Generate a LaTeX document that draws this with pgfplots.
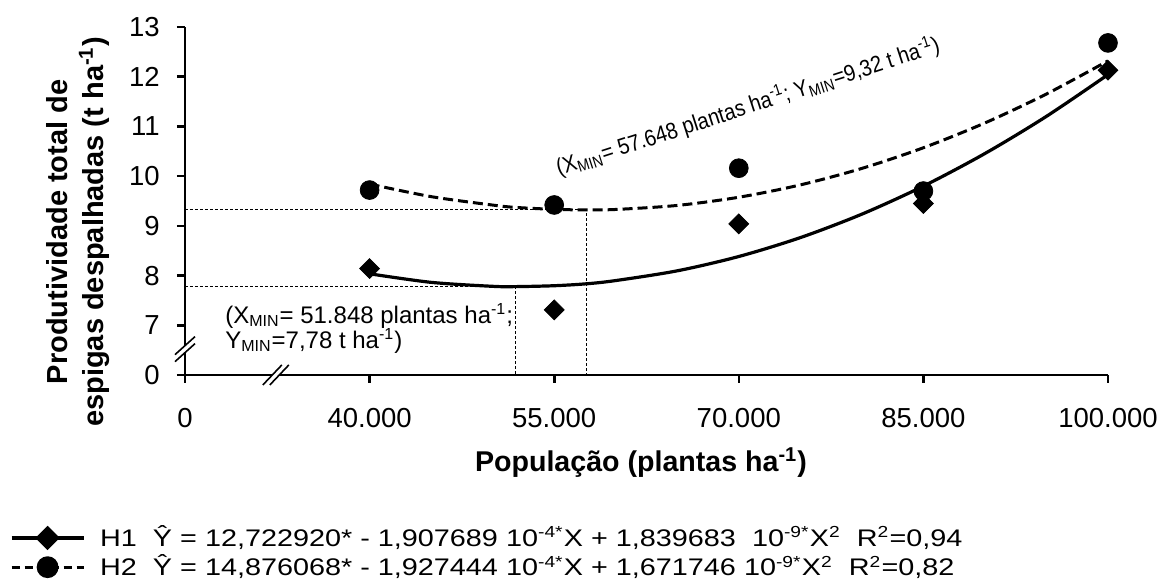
\documentclass[border=0pt]{standalone}
\usepackage{fontspec}
\setmainfont{Liberation Sans}
\usepackage{graphicx}
\usepackage{pgfplots}
\pgfplotsset{compat=1.18}

% Fitted quadratic responses (evaluated every 5000 plants/ha)
\pgfplotstableread{
x       hA      hB
40000   8.0357  9.8411
45000   7.8637  9.5879
50000   7.7837  9.4182
51848   7.7777  9.3713
55000   7.7957  9.3322
57648   7.8351  9.3204
60000   7.8997  9.3297
65000   8.0956  9.4108
70000   8.3836  9.5755
75000   8.7635  9.8238
80000   9.2354  10.1557
85000   9.7993  10.5712
90000   10.4552 11.0702
95000   11.2030 11.6529
100000  12.0429 12.3191
}\fitted

% Observed means
\pgfplotstableread{
x       hA      hB
40000   8.14    9.72
55000   7.31    9.42
70000   9.04    10.16
85000   9.45    9.70
100000  12.13   12.68
}\observed

\begin{document}
\begin{tikzpicture}
\begin{axis}[
  scale only axis,
  width=461.5pt, height=174pt,
  xmin=25000, xmax=100000,
  ymin=6, ymax=13,
  clip=false,
  scaled x ticks=false, scaled y ticks=false,
  axis x line*=bottom, axis y line*=left,
  axis line style={line width=1.3pt, -},
  every tick/.style={black, line width=1.3pt},
  tick align=outside,
  major tick length=4pt,
  xtick={25000,40000,55000,70000,85000,100000},
  xticklabels={0,40.000,55.000,70.000,85.000,100.000},
  ytick={6,7,8,9,10,11,12,13},
  yticklabels={0,7,8,9,10,11,12,13},
  /pgf/number format/assume math mode=true,
  tick label style={font=\fontsize{13.75}{16}\selectfont},
  xticklabel style={anchor=base, inner sep=0pt, yshift=-22.5pt},
  yticklabel style={anchor=east, inner sep=0pt, xshift=-8.5pt},
  xlabel={População (plantas ha\textsuperscript{-1})},
  xlabel style={at={(axis description cs:0.494,-0.2787)}, anchor=base,
    inner sep=0pt, font=\fontsize{14.3}{17}\selectfont\bfseries},
  ylabel={Produtividade total de\\espigas despalhadas (t ha\textsuperscript{-1})},
  ylabel style={at={(axis description cs:-0.1159,0.411)}, anchor=center,
    align=center, inner sep=0pt, font=\fontsize{14.5}{18}\selectfont\bfseries},
  legend image code/.code={%
    \draw[#1, mark repeat=2, mark phase=2]
      plot coordinates {(0pt,0pt) (18pt,0pt) (36pt,0pt)};},
  legend style={at={(axis description cs:-0.1896,-0.4356)}, anchor=north west,
    draw=none, fill=none, inner sep=0pt, outer sep=0pt,
    nodes={inner sep=0pt, text height=10pt, text depth=1.4pt},
    row sep=3.2pt,
    /tikz/every odd column/.append style={column sep=7.5pt},
    font=\fontsize{12}{14}\selectfont},
  legend cell align=left,
]
% reference lines at the two minima
\addplot[forget plot, black, line width=0.5pt, dash pattern=on 1.5pt off 1pt]
  coordinates {(25000,9.32) (57648,9.32) (57648,6)};
\addplot[forget plot, black, line width=0.5pt, dash pattern=on 1.5pt off 1pt]
  coordinates {(25000,7.78) (51848,7.78) (51848,6)};

% fitted curves
\addplot[forget plot, black, line width=1.6pt, smooth] table[x=x, y=hA] {\fitted};
\addplot[forget plot, black, line width=1.5pt, dash pattern=on 5pt off 2.5pt, smooth]
  table[x=x, y=hB] {\fitted};

% observed means
\addplot[forget plot, only marks, mark=square*, mark size=3.5pt,
  mark options={rotate=45, fill=black, draw=black}] table[x=x, y=hA] {\observed};
\addplot[forget plot, only marks, mark=*, mark size=4.7pt,
  mark options={fill=black, draw=black}] table[x=x, y=hB] {\observed};

\addlegendimage{black, line width=1.6pt, mark=square*, mark size=3.5pt,
  mark options={rotate=45, solid, fill=black}}
\addlegendentry{\scalebox{1.2}[1]{H1\ \ Ŷ = 12,722920* - 1,907689 10\textsuperscript{-4*}X + 1,839683\ \ 10\textsuperscript{-9*}X\textsuperscript{2}\ \ R\textsuperscript{2}=0,94}}
\addlegendimage{black, line width=1.5pt, dash pattern=on 4pt off 2.5pt, mark=*,
  mark size=4.7pt, mark options={solid, fill=black}}
\addlegendentry{\scalebox{1.2}[1]{H2\ \ Ŷ = 14,876068* - 1,927444 10\textsuperscript{-4*}X + 1,671746 10\textsuperscript{-9*}X\textsuperscript{2}\ \ R\textsuperscript{2}=0,82}}

% annotations of the minima
\node[anchor=base west, inner sep=0pt, font=\fontsize{12}{14}\selectfont]
  at (axis cs:28243,7.044) {(X\textsubscript{MIN}= 51.848 plantas ha\textsuperscript{-1};};
\node[anchor=base west, inner sep=0pt, font=\fontsize{12}{14}\selectfont]
  at (axis cs:28243,6.541) {Y\textsubscript{MIN}=7,78 t ha\textsuperscript{-1})};
\node[rotate=18, inner sep=0pt, font=\fontsize{11.5}{13}\selectfont]
  at (axis cs:70730,11.40) {\scalebox{0.88}[1]{(X\textsubscript{MIN}= 57.648 plantas ha\textsuperscript{-1}; Y\textsubscript{MIN}=9,32 t ha\textsuperscript{-1})}};

\coordinate (O) at (rel axis cs:0,0);
\coordinate (ybrk) at (axis cs:25000,6.52);
\coordinate (xbrk) at (axis cs:32378,6);
\end{axis}

% axis break marks
\begin{scope}[shift={(ybrk)}]
  \fill[white] (-5pt,-6.25pt) -- (5pt,2.75pt) -- (5pt,6.25pt) -- (-5pt,-2.75pt) -- cycle;
  \draw[line width=0.8pt] (-5pt,-6.25pt) -- (5pt,2.75pt);
  \draw[line width=0.8pt] (-5pt,-2.75pt) -- (5pt,6.25pt);
\end{scope}
\begin{scope}[shift={(xbrk)}]
  \fill[white] (-6.5pt,-5pt) -- (3pt,5pt) -- (6.5pt,5pt) -- (-3pt,-5pt) -- cycle;
  \draw[line width=0.8pt] (-6.5pt,-5pt) -- (3pt,5pt);
  \draw[line width=0.8pt] (-3pt,-5pt) -- (6.5pt,5pt);
\end{scope}

\pgfresetboundingbox
\path (O) ++(-92.5pt,-106.5pt) rectangle ++(580pt,294pt);
\end{tikzpicture}
\end{document}
